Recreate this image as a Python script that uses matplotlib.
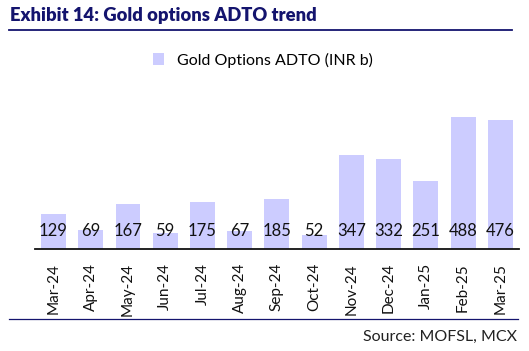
import numpy as np
import matplotlib.pyplot as plt
from matplotlib.lines import Line2D

plt.rcParams['font.family'] = ['Lato', 'DejaVu Sans']

# ---------------------- data ----------------------
months = ['Mar-24', 'Apr-24', 'May-24', 'Jun-24', 'Jul-24', 'Aug-24', 'Sep-24',
          'Oct-24', 'Nov-24', 'Dec-24', 'Jan-25', 'Feb-25', 'Mar-25']
adto = [129, 69, 167, 59, 175, 67, 185, 52, 347, 332, 251, 488, 476]

bar_color = '#CCCCFF'
navy = '#14146E'

# ---------------------- plot ----------------------
fig = plt.figure(figsize=(5.29, 3.51), dpi=100)
ax = fig.add_axes([0.066, 0.2906, 0.915, 0.4624])

x = np.arange(len(months))
bars = ax.bar(x, adto, width=0.67, color=bar_color, label='Gold Options ADTO (INR b)')
ax.set_xlim(-0.5, len(months) - 0.5)
ax.set_ylim(0, 600)

for xi, v in zip(x, adto):
    ax.text(xi, 66, f'{v}', ha='center', va='center', fontsize=12, color='#111111')

ax.set_xticks(x)
ax.set_xticklabels(months, rotation=90, fontsize=11, color='#111111')
ax.tick_params(axis='x', length=0, pad=10)
ax.set_yticks([])
for s in ['top', 'right', 'left']:
    ax.spines[s].set_visible(False)
ax.spines['bottom'].set_color('#111111')
ax.spines['bottom'].set_linewidth(1.3)

fig.legend(handles=[bars], loc='center', bbox_to_anchor=(0.497, 0.829),
           frameon=False, fontsize=11.5, handlelength=0.7, handleheight=0.7,
           handletextpad=0.8)

# title + rules
fig.text(0.019, 0.957, 'Exhibit 14: Gold options ADTO trend', fontsize=13.2,
         fontweight='heavy', color=navy, ha='left', va='center')
fig.add_artist(Line2D([0.017, 0.968], [0.914, 0.914], color=navy, lw=1.3))
fig.add_artist(Line2D([0.017, 0.98], [0.091, 0.091], color=navy, lw=0.9))
fig.text(0.977, 0.041, 'Source: MOFSL, MCX', fontsize=11.5, color='#222222',
         ha='right', va='center')

plt.savefig('out.png', dpi=100)
